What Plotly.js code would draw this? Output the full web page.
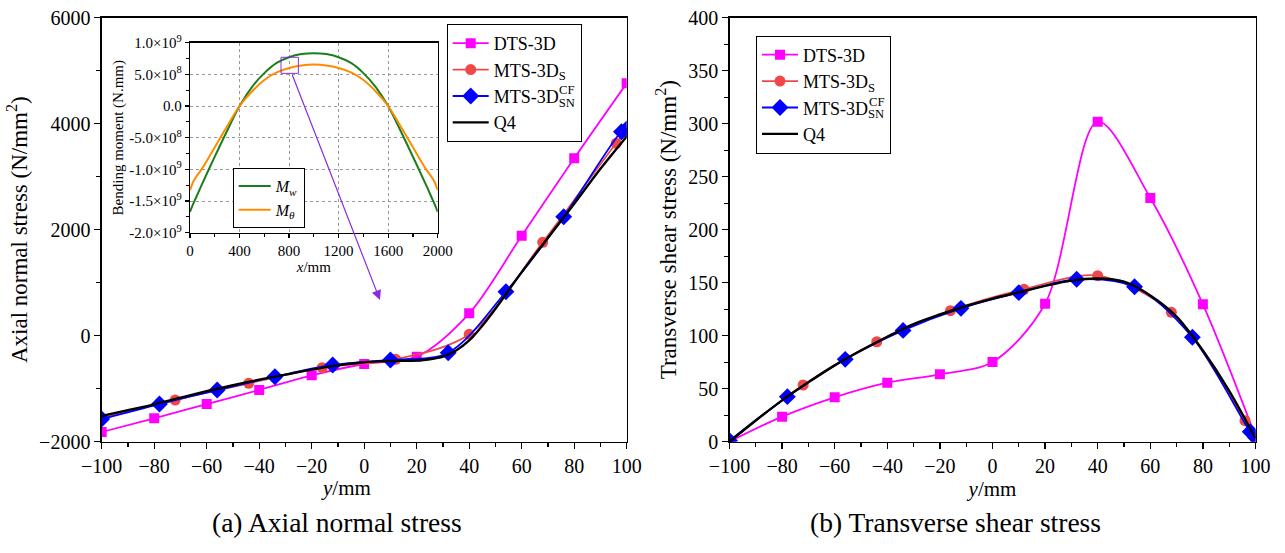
<!DOCTYPE html>
<html>
<head>
<meta charset="utf-8">
<script src="https://cdn.plot.ly/plotly-3.0.1.min.js"></script>
<style>html,body{margin:0;padding:0;background:#fff;}#chart{width:1285px;height:553px;}</style>
</head>
<body>
<div id="chart"></div>
<script>
// ---------- data: (a) axial normal stress ----------
const yDTS = [-100,-80,-60,-40,-20,0,20,40,60,80,100];
const axialDTS = [-1817,-1559,-1289,-1025,-748,-534,-396,422,1887,3347,4762];
const yMTSS = [-100,-72,-44,-16,12,40,68,96,100];
const axialMTSS = [-1560,-1213,-898,-604,-446,26,1762,3630,3860];
const yMTSSN = [-100,-78,-56,-34,-12,10,32,54,76,98,100];
const axialMTSSN = [-1572,-1289,-1025,-774,-553,-458,-321,830,2245,3849,3900];
const yQ4a = [-100,-90,-80,-70,-60,-50,-40,-30,-20,-10,0,10,20,25,30,35,40,45,50,60,70,80,90,100];
const axialQ4 = [-1515,-1405,-1295,-1170,-1045,-935,-830,-735,-640,-560,-500,-478,-468,-445,-395,-280,-90,190,510,1200,1850,2490,3150,3760];

// ---------- data: (b) transverse shear stress ----------
const shearDTS = [0,23.6,41.9,55.7,63.6,75.2,130.2,301.9,229.9,129.6,5];
const shearMTSS = [0,53.5,94.3,123.6,143.8,156.6,122.1,19.8,2.5];
const shearMTSSN = [1,42.5,77.7,105,125.8,140.6,153.2,146.2,98.5,9.4,4];
const yQ4b = [-100,-90,-80,-70,-60,-50,-40,-30,-20,-10,0,10,20,30,40,50,60,70,80,90,100];
const shearQ4 = [0,20,39,56,72,86,99,111,120,128,135,141,147,152,154,151,138,118,86,48,3];

// ---------- data: inset bending moment ----------
const xInset = [0,25,50,100,200,300,400,500,600,700,800,900,1000,1100,1200,1300,1400,1500,1600,1700,1800,1900,1950,1975,2000];
const Mw = [-1.67e9,-1.55e9,-1.44e9,-1.22e9,-0.80e9,-0.39e9,0,0.30e9,0.52e9,0.68e9,0.77e9,0.82e9,0.835e9,0.82e9,0.77e9,0.68e9,0.52e9,0.30e9,0,-0.39e9,-0.80e9,-1.22e9,-1.44e9,-1.55e9,-1.67e9];
const Mtheta = [-1.33e9,-1.20e9,-1.12e9,-0.98e9,-0.65e9,-0.32e9,0,0.23e9,0.41e9,0.53e9,0.60e9,0.64e9,0.655e9,0.64e9,0.60e9,0.53e9,0.41e9,0.23e9,0,-0.32e9,-0.65e9,-0.98e9,-1.12e9,-1.20e9,-1.33e9];
const insetYTicks = [-2e9,-1.5e9,-1e9,-5e8,0,5e8,1e9];
const insetYText = ['-2.0×10<sup>9</sup>','-1.5×10<sup>9</sup>','-1.0×10<sup>9</sup>','-5.0×10<sup>8</sup>','0.0','5.0×10<sup>8</sup>','1.0×10<sup>9</sup>'];

const F = '"Liberation Serif", "Times New Roman", Times, serif';
const cDTS = '#ff00ff', cS = '#f04848', cSN = '#0000ff', cQ4 = '#000000';

function series(x, y, name, color, sym, size, xa, ya, lg, lw){
  const t = {x:x, y:y, name:name, type:'scatter', mode: sym ? 'lines+markers' : 'lines',
    xaxis:xa, yaxis:ya, legend:lg, showlegend:true,
    line:{color:color, width:lw||1.8, shape:'spline', smoothing:0.9}};
  if (sym) t.marker = {symbol:sym, size:size, color:color};
  return t;
}

const traces = [
  series(yDTS, axialDTS, 'DTS-3D', cDTS, 'square', 10, 'x', 'y', 'legend'),
  series(yMTSS, axialMTSS, 'MTS-3D<sub>S</sub>', cS, 'circle', 11, 'x', 'y', 'legend'),
  series(yMTSSN, axialMTSSN, 'MTS-3D<sub>SN</sub>', cSN, 'diamond', 13, 'x', 'y', 'legend'),
  series(yQ4a, axialQ4, 'Q4', cQ4, null, 0, 'x', 'y', 'legend', 2.4),
  series(yDTS, shearDTS, 'DTS-3D', cDTS, 'square', 10, 'x2', 'y2', 'legend2'),
  series(yMTSS, shearMTSS, 'MTS-3D<sub>S</sub>', cS, 'circle', 11, 'x2', 'y2', 'legend2'),
  series(yMTSSN, shearMTSSN, 'MTS-3D<sub>SN</sub>', cSN, 'diamond', 13, 'x2', 'y2', 'legend2'),
  series(yQ4b, shearQ4, 'Q4', cQ4, null, 0, 'x2', 'y2', 'legend2', 2.4),
  series(xInset, Mw, '<i>M<sub>w</sub></i>', '#1a7f1a', null, 0, 'x3', 'y3', 'legend3', 2),
  series(xInset, Mtheta, '<i>M<sub>θ</sub></i>', '#ff8c00', null, 0, 'x3', 'y3', 'legend3', 2)
];

function ax(extra){
  return Object.assign({
    showline:true, linecolor:'#000', linewidth:1.3, mirror:true,
    ticks:'outside', ticklen:6, tickwidth:1.2, tickcolor:'#000',
    showgrid:false, zeroline:false, fixedrange:true,
    tickfont:{family:F, size:20, color:'#000'}
  }, extra);
}
const W = 1285, H = 553;
const px = v => v / W, py = v => 1 - v / H;

const layout = {
  width:W, height:H, margin:{l:0,r:0,t:0,b:0},
  paper_bgcolor:'#fff', plot_bgcolor:'rgba(0,0,0,0)',
  font:{family:F, size:18, color:'#000'},
  xaxis: ax({domain:[px(101.7), px(626.7)], range:[-100,100], dtick:20, tick0:-100,
    minor:{ticks:'outside', ticklen:4, dtick:10, tickcolor:'#000'}, anchor:'y'}),
  yaxis: ax({domain:[py(441.7), py(17.7)], range:[-2000,6000], dtick:2000,
    minor:{ticks:'outside', ticklen:4, dtick:1000, tickcolor:'#000'},
    title:{text:'Axial normal stress (N/mm<sup>2</sup>)', font:{family:F, size:23}, standoff:5}, anchor:'x'}),
  xaxis2: ax({domain:[px(729.5), px(1255.5)], range:[-100,100], dtick:20, tick0:-100,
    minor:{ticks:'outside', ticklen:4, dtick:10, tickcolor:'#000'},
    title:{text:'<i>y</i>/mm', font:{family:F, size:21}, standoff:0}, anchor:'y2'}),
  yaxis2: ax({domain:[py(441.7), py(17.7)], range:[0,400], dtick:50,
    minor:{ticks:'outside', ticklen:4, dtick:25, tickcolor:'#000'},
    title:{text:'Transverse shear stress (N/mm<sup>2</sup>)', font:{family:F, size:23}, standoff:5}, anchor:'x2'}),
  xaxis3: ax({domain:[px(190), px(437.7)], range:[0,2000], dtick:400, tick0:0,
    ticklen:4, showgrid:true, gridcolor:'#999', griddash:'dot', gridwidth:1,
    minor:{ticks:'outside', ticklen:2.5, dtick:200, tickcolor:'#000'},
    tickfont:{family:F, size:15, color:'#000'},
    title:{text:'<i>x</i>/mm', font:{family:F, size:15}, standoff:0}, anchor:'y3'}),
  yaxis3: ax({domain:[py(232.7), py(42.7)], range:[-2e9,1e9], tickvals:insetYTicks, ticktext:insetYText,
    ticklen:4, showgrid:true, gridcolor:'#999', griddash:'dot', gridwidth:1,
    minor:{ticks:'outside', ticklen:2.5, dtick:2.5e8, tickcolor:'#000'},
    tickfont:{family:F, size:15, color:'#000'},
    title:{text:'Bending moment (N.mm)', font:{family:F, size:15}, standoff:2}, anchor:'x3'}),
  legend: {x:px(446.7), y:py(24), xanchor:'left', yanchor:'top', bgcolor:'#fff',
    bordercolor:'#000', borderwidth:1, font:{family:F, size:18}, itemwidth:36, tracegroupgap:0},
  legend2: {x:px(756), y:py(35.5), xanchor:'left', yanchor:'top', bgcolor:'#fff',
    bordercolor:'#000', borderwidth:1, font:{family:F, size:18}, itemwidth:36, tracegroupgap:0},
  legend3: {x:px(232.7), y:py(168), xanchor:'left', yanchor:'top', bgcolor:'#fff',
    bordercolor:'#000', borderwidth:1, font:{family:F, size:16}, itemwidth:32, tracegroupgap:0},
  shapes: [
    {type:'rect', xref:'x3', yref:'y3', x0:735, x1:875, y0:0.516e9, y1:0.77e9,
     line:{color:'#8a2be2', width:1}}
  ],
  annotations: [
    {xref:'x', yref:'y', x:6, y:674, ax:-88.3, ay:-226.7, axref:'pixel', ayref:'pixel',
     showarrow:true, arrowhead:2, arrowsize:1.6, arrowwidth:1.2, arrowcolor:'#8a2be2', text:''},
    {xref:'paper', yref:'paper', x:px(346), y:py(488), text:'<i>y</i>/mm',
     showarrow:false, font:{family:F, size:21}, xanchor:'center', yanchor:'middle'},
    {xref:'paper', yref:'paper', x:px(336.5), y:py(522), text:'(a) Axial normal stress',
     showarrow:false, font:{family:F, size:27.5}, xanchor:'center', yanchor:'middle'},
    {xref:'paper', yref:'paper', x:px(955), y:py(522), text:'(b) Transverse shear stress',
     showarrow:false, font:{family:F, size:27.5}, xanchor:'center', yanchor:'middle'}
  ]
};

Plotly.newPlot('chart', traces, layout, {displayModeBar:false, staticPlot:true}).then(function(gd){
  // stack the "CF" superscript above the "SN" subscript in each legend entry
  const anns = layout.annotations.slice();
  const spans = Array.prototype.filter.call(document.querySelectorAll('tspan'),
    function(s){ return s.textContent === 'SN'; });
  const pos = spans.map(function(s){ const r = s.getBoundingClientRect();
    return {x:r.left + r.width/2, y:r.top + r.height/2}; });
  if (pos.length === 1) {
    // derive the second legend's entry from the legends' offset
    pos.push({x:pos[0].x + (756 - 446.7), y:pos[0].y + (35.5 - 24)});
  }
  pos.forEach(function(p){
    anns.push({xref:'paper', yref:'paper', x:px(p.x), y:py(p.y - 12.5), text:'CF',
      showarrow:false, font:{family:F, size:12.6}, xanchor:'center', yanchor:'middle'});
  });
  return Plotly.relayout(gd, {annotations: anns});
});
</script>
</body>
</html>
